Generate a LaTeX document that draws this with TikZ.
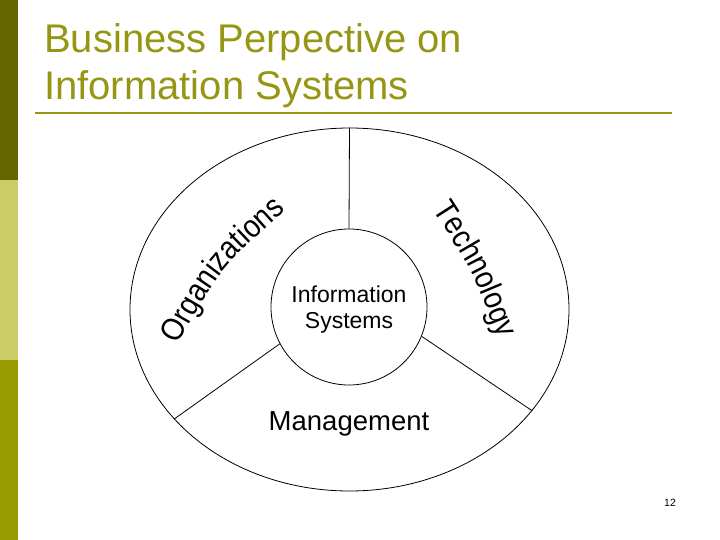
\documentclass[tikz,border=0pt]{standalone}
\usepackage{fontspec}
\setmainfont{Liberation Sans}
\newfontfamily\arcfam[FakeStretch=0.88]{Liberation Sans}
\usetikzlibrary{shapes.geometric,decorations.text}
\definecolor{olivedark}{RGB}{102,102,0}
\definecolor{olivelight}{RGB}{204,204,102}
\definecolor{olivemid}{RGB}{153,153,0}
\definecolor{titlecol}{RGB}{150,150,20}
\newcommand\arcfont{\arcfam\fontsize{32}{32}\selectfont}
\begin{document}
\begin{tikzpicture}[x=1pt,y=-1pt,
  titletext/.style={anchor=base west, inner sep=0, text=titlecol, font=\fontsize{40}{48}\selectfont},
  outline/.style={draw=black, line width=0.8pt},
  label/.style={anchor=base, inner sep=0},
  arctext/.style={decorate, decoration={text along path, text align={center}, text={#1}}}]
\useasboundingbox (0,0) rectangle (720,540);
% sidebar
\fill[olivedark] (0,0) rectangle (18,180);
\fill[olivelight] (0,180) rectangle (18,360);
\fill[olivemid] (0,360) rectangle (18,540);
% title
\node[titletext] (t1) at (44,53) {Business Perpective on};
\node[titletext] (t2) at (44,100) {Information Systems};
\coordinate (r1) at (35,113);
\coordinate (r2) at (672,113);
\draw[titlecol, line width=2pt] (r1) -- (r2);
% diagram
\node[ellipse, outline, minimum width=439pt, minimum height=363pt, inner sep=0] (E) at (349.5,309.5) {};
\node[circle, outline, minimum size=156pt, inner sep=0] (IS) at (349,307) {};
\draw[outline] (IS.north) -- (E.north);
\draw[outline] (IS.-22.7) -- (E.-29.5);
\draw[outline] (IS.208.5) -- (E.212);
\node[label, font=\fontsize{23}{23}\selectfont] (info) at (349,302) {Information};
\node[label, font=\fontsize{23}{23}\selectfont] (sys) at (349,328) {Systems};
\node[label, font=\fontsize{27.5}{28}\selectfont] (mg) at (349,430) {Management};
\path[arctext={|\arcfont|Organizations}] (177,346) .. controls (220.5,268.4) .. (287,209);
\path[arctext={|\arcfont|Technology}] (434,211) .. controls (472.3,270.8) .. (498,337);
\node[label, font=\fontsize{10.5}{11}\selectfont] (pg) at (670,506) {12};
\end{tikzpicture}
\end{document}
